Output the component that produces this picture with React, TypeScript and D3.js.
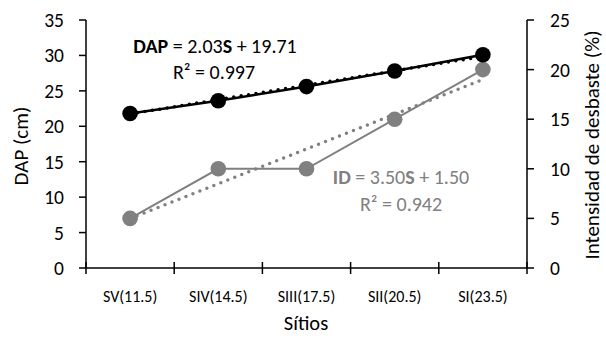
import * as d3 from 'd3';

// ─── Data ───────────────────────────────────────────────────

const SITES = ['SV(11.5)', 'SIV(14.5)', 'SIII(17.5)', 'SII(20.5)', 'SI(23.5)'];
const DAP = [21.8, 23.6, 25.6, 27.8, 30.1];
const ID = [5, 10, 10, 15, 20];
const DAP_FIT = { slope: 2.03, intercept: 19.71 };
const ID_FIT = { slope: 3.5, intercept: 1.5 };
const LEFT_TICKS = [0, 5, 10, 15, 20, 25, 30, 35];
const RIGHT_TICKS = [0, 5, 10, 15, 20, 25];

// ─── Layout ─────────────────────────────────────────────────

const W = 606;
const H = 338;
const M = { left: 86, right: 79, top: 20, bottom: 70 };
const FONT = 'Carlito, Lato, "Open Sans", sans-serif';
const GRAY = '#808080';

export default function App() {
  const innerR = W - M.right;
  const innerB = H - M.bottom;

  const x = d3.scaleBand<string>().domain(SITES).range([M.left, innerR]);
  const yL = d3.scaleLinear().domain([0, 35]).range([innerB, M.top]);
  const yR = d3.scaleLinear().domain([0, 25]).range([innerB, M.top]);
  const cx = (i: number) => (x(SITES[i]) ?? 0) + x.bandwidth() / 2;

  const lineL = d3.line<number>().x((_, i) => cx(i)).y((d) => yL(d));
  const lineR = d3.line<number>().x((_, i) => cx(i)).y((d) => yR(d));

  const fitPts = (f: { slope: number; intercept: number }) =>
    SITES.map((_, i) => f.slope * (i + 1) + f.intercept);

  const dapFit = fitPts(DAP_FIT);
  const idFit = fitPts(ID_FIT);
  const xTicks = [...SITES.map((s) => x(s) ?? 0), innerR];

  return (
    <svg width={W} height={H} style={{ position: 'absolute', left: 0, top: 0 }} fontFamily={FONT}>
      <rect width={W} height={H} fill="#fff" />

      {/* Axes */}
      <line x1={M.left} x2={innerR} y1={innerB} y2={innerB} stroke="#000" strokeWidth={1.5} />
      <line x1={M.left} x2={M.left} y1={M.top} y2={innerB} stroke="#000" strokeWidth={1.5} />
      <line x1={innerR} x2={innerR} y1={M.top} y2={innerB} stroke="#000" strokeWidth={1.5} />
      {xTicks.map((t, i) => (
        <line key={i} x1={t} x2={t} y1={innerB - 6} y2={innerB + 6} stroke="#000" strokeWidth={1.5} />
      ))}
      {LEFT_TICKS.map((t) => (
        <g key={t}>
          <line x1={M.left - 7} x2={M.left} y1={yL(t)} y2={yL(t)} stroke="#000" strokeWidth={1.5} />
          <text x={64} y={yL(t)} dy="0.36em" textAnchor="end" fontSize={19.5}>{t}</text>
        </g>
      ))}
      {RIGHT_TICKS.map((t) => (
        <g key={t}>
          <line x1={innerR} x2={innerR + 7} y1={yR(t)} y2={yR(t)} stroke="#000" strokeWidth={1.5} />
          <text x={550} y={yR(t)} dy="0.36em" textAnchor="start" fontSize={19.5}>{t}</text>
        </g>
      ))}
      {SITES.map((s, i) => (
        <text key={s} x={cx(i)} y={302} textAnchor="middle" fontSize={16}>{s}</text>
      ))}

      {/* Axis titles */}
      <text x={306} y={330} textAnchor="middle" fontSize={20.5}>Sítios</text>
      <text transform={`translate(28,146) rotate(-90)`} textAnchor="middle" fontSize={21}>DAP (cm)</text>
      <text transform={`translate(599,145) rotate(-90)`} textAnchor="middle" fontSize={21}>Intensidad de desbaste (%)</text>

      {/* ID series */}
      <path d={lineR(ID) ?? ''} fill="none" stroke={GRAY} strokeWidth={2} />
      <path d={lineR(idFit) ?? ''} fill="none" stroke={GRAY} strokeWidth={3.5} strokeDasharray="0 7.5" strokeLinecap="round" />
      {ID.map((d, i) => (
        <circle key={i} cx={cx(i)} cy={yR(d)} r={7.8} fill={GRAY} />
      ))}

      {/* DAP series */}
      <path d={lineL(DAP) ?? ''} fill="none" stroke="#000" strokeWidth={2.5} />
      <path d={lineL(dapFit) ?? ''} fill="none" stroke="#000" strokeWidth={3.5} strokeDasharray="0 7.5" strokeLinecap="round" />
      {DAP.map((d, i) => (
        <circle key={i} cx={cx(i)} cy={yL(d)} r={7.8} fill="#000" />
      ))}

      {/* Equations */}
      <text x={215} y={53} textAnchor="middle" fontSize={20} fill="#000">
        <tspan fontWeight="bold">DAP</tspan> = 2.03<tspan fontWeight="bold">S</tspan> + 19.71
      </text>
      <text x={214} y={79} textAnchor="middle" fontSize={20} fill="#000">R² = 0.997</text>
      <text x={401} y={184} textAnchor="middle" fontSize={20} fill={GRAY}>
        <tspan fontWeight="bold">ID</tspan> = 3.50<tspan fontWeight="bold">S</tspan> + 1.50
      </text>
      <text x={401} y={211} textAnchor="middle" fontSize={20} fill={GRAY}>R² = 0.942</text>
    </svg>
  );
}
